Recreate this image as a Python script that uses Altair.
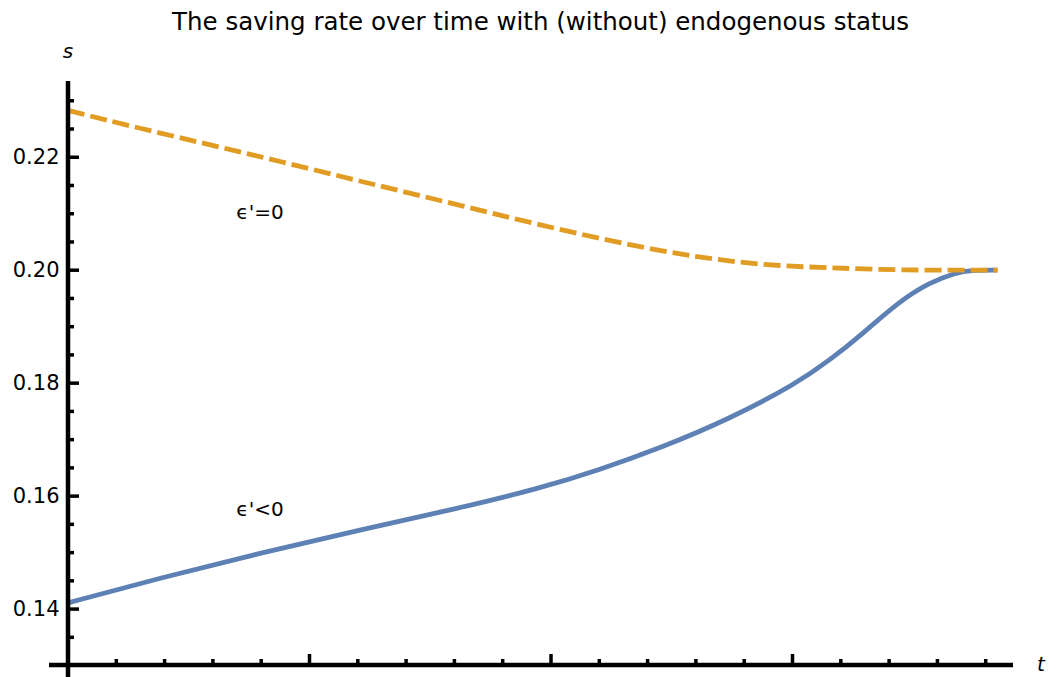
import altair as alt
import pandas as pd

# ---- data ----
t_dashed = [0, 2.98, 6.29, 9.61, 12.92, 16.23, 19.54, 23.27, 26.05, 28.78, 31.55, 34.45, 38.5]
s_dashed = [0.2283, 0.2251, 0.2218, 0.2184, 0.2149, 0.2115, 0.2080, 0.2044, 0.2023, 0.2009, 0.2004, 0.2000, 0.2000]

t_solid = [0, 3.81, 7.95, 12.09, 16.23, 19.54, 21.9, 24.64, 27.41, 30.19, 31.55, 32.92, 34.33, 35.69, 36.81, 37.35, 38.47]
s_solid = [0.1411, 0.1455, 0.1499, 0.1540, 0.1579, 0.1614, 0.1645, 0.1687, 0.1737, 0.1800, 0.1841, 0.1888, 0.1942, 0.1979, 0.1996, 0.2000, 0.2000]

label_text = ["ϵ'=0", "ϵ'<0"]
label_t = [7.95, 7.95]
label_s = [0.2101, 0.1575]

y_major = [0.14, 0.16, 0.18, 0.20, 0.22]
y_minor = [0.135, 0.145, 0.15, 0.155, 0.165, 0.17, 0.175, 0.185, 0.19, 0.195,
           0.205, 0.21, 0.215, 0.225, 0.23]
x_major = [0, 10, 20, 30]
x_minor = [2, 4, 6, 8, 12, 14, 16, 18, 22, 24, 26, 28, 32, 34, 36, 38]

title_text = "The saving rate over time with (without) endogenous status"

W, H = 945, 584
X_DOM = [0, 39.13]
Y_DOM = [0.1301, 0.2335]
FONT = "DejaVu Sans"
BLUE = "#5E81B5"
ORANGE = "#E19C24"

xs = alt.Scale(domain=X_DOM, nice=False, zero=False)
ys = alt.Scale(domain=Y_DOM, nice=False, zero=False)

solid_df = pd.DataFrame({"t": t_solid, "s": s_solid})
dashed_df = pd.DataFrame({"t": t_dashed, "s": s_dashed})
lab_df = pd.DataFrame({"t": label_t, "s": label_s, "label": label_text})
one = pd.DataFrame({"a": [0]})

solid = alt.Chart(solid_df).mark_line(
    color=BLUE, strokeWidth=4.8, interpolate="basis"
).encode(
    x=alt.X("t:Q", scale=xs, axis=None),
    y=alt.Y("s:Q", scale=ys, axis=alt.Axis(
        values=y_major, format=".2f", ticks=False, domain=False, grid=False,
        labelFont=FONT, labelFontSize=21, labelColor="black", labelPadding=9,
        title=None)),
)

dashed = alt.Chart(dashed_df).mark_line(
    color=ORANGE, strokeWidth=4.8, strokeDash=[17, 6], interpolate="basis"
).encode(
    x=alt.X("t:Q", scale=xs),
    y=alt.Y("s:Q", scale=ys),
)

labels = alt.Chart(lab_df).mark_text(
    font=FONT, fontSize=20, color="black", align="center", baseline="middle"
).encode(
    x=alt.X("t:Q", scale=xs),
    y=alt.Y("s:Q", scale=ys),
    text="label:N",
)

# axis lines
y_axis_line = alt.Chart(one).mark_rule(color="black", strokeWidth=4.5).encode(
    x=alt.value(0), y=alt.value(0), y2=alt.value(H + 12))
x_axis_line = alt.Chart(one).mark_rule(color="black", strokeWidth=4.5).encode(
    x=alt.value(-19), x2=alt.value(W), y=alt.value(H))

# ticks
ymaj_df = pd.DataFrame({"v": y_major})
ymin_df = pd.DataFrame({"v": y_minor})
xmaj_df = pd.DataFrame({"v": x_major})
xmin_df = pd.DataFrame({"v": x_minor})

ymaj = alt.Chart(ymaj_df).mark_rule(color="black", strokeWidth=3.5).encode(
    y=alt.Y("v:Q", scale=ys), x=alt.value(0), x2=alt.value(11))
ymin = alt.Chart(ymin_df).mark_rule(color="black", strokeWidth=3.5).encode(
    y=alt.Y("v:Q", scale=ys), x=alt.value(0), x2=alt.value(6))
xmaj = alt.Chart(xmaj_df).mark_rule(color="black", strokeWidth=3.5).encode(
    x=alt.X("v:Q", scale=xs), y=alt.value(H), y2=alt.value(H - 11))
xmin = alt.Chart(xmin_df).mark_rule(color="black", strokeWidth=3.5).encode(
    x=alt.X("v:Q", scale=xs), y=alt.value(H), y2=alt.value(H - 6))

# titles
title = alt.Chart(one).mark_text(
    text=title_text, font=FONT, fontSize=24.5, color="black",
    align="center", baseline="alphabetic"
).encode(x=alt.value(W / 2), y=alt.value(-51))
s_lab = alt.Chart(one).mark_text(
    text="s", font=FONT, fontSize=20, fontStyle="italic", color="black",
    align="center", baseline="middle"
).encode(x=alt.value(0), y=alt.value(-29))
t_lab = alt.Chart(one).mark_text(
    text="t", font=FONT, fontSize=20, fontStyle="italic", color="black",
    align="center", baseline="middle"
).encode(x=alt.value(W + 28), y=alt.value(H))

chart = alt.layer(
    solid, dashed, labels, y_axis_line, x_axis_line, ymaj, ymin, xmaj, xmin,
    title, s_lab, t_lab
).properties(
    width=W, height=H,
    autosize=alt.AutoSizeParams(type="none"),
    padding={"left": 68, "top": 81, "right": 46, "bottom": 12},
    background="white",
).configure_view(stroke=None)

chart.save("out.html", embed_options={"renderer": "svg", "actions": False})
